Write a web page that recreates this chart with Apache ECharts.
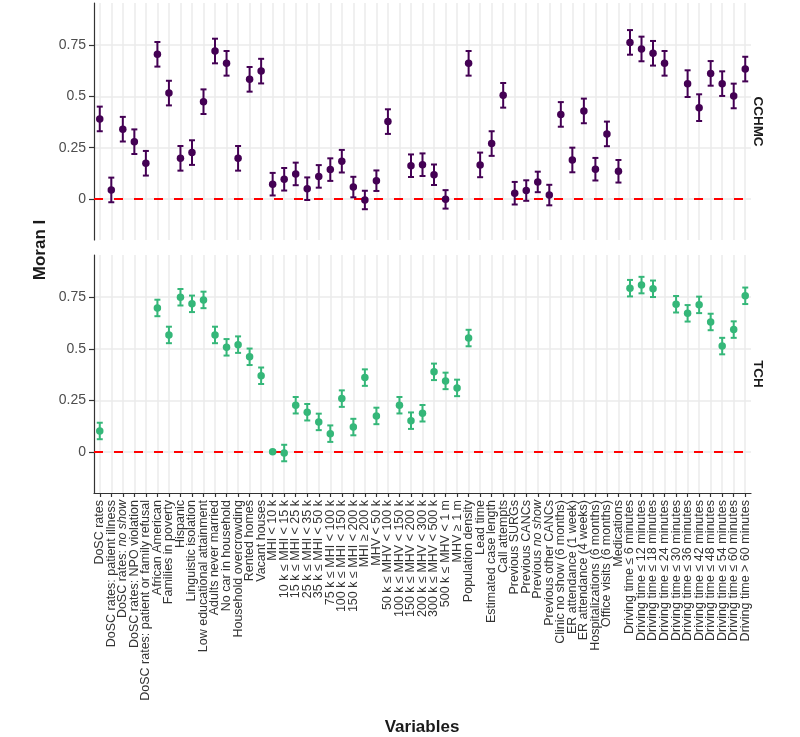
<!DOCTYPE html>
<html>
<head>
<meta charset="utf-8">
<script src="https://cdn.jsdelivr.net/npm/echarts@6/dist/echarts.min.js"></script>
<style>html,body{margin:0;padding:0;background:#fff;}#c{width:800px;height:737px;}</style>
</head>
<body>
<div id="c"></div>
<script>
const categories = [
  "DoSC rates", "DoSC rates: patient illness", "DoSC rates: {i|no show}", "DoSC rates: NPO violation",
  "DoSC rates: patient or family refusal", "African American", "Families in poverty", "Hispanic",
  "Linguistic isolation", "Low educational attainment", "Adults never married", "No car in household",
  "Household overcrowding", "Rented homes", "Vacant houses",
  "MHI < 10 k", "10 k ≤ MHI < 15 k", "15 k ≤ MHI < 25 k", "25 k ≤ MHI < 35 k", "35 k ≤ MHI < 50 k",
  "75 k ≤ MHI < 100 k", "100 k ≤ MHI < 150 k", "150 k ≤ MHI < 200 k", "MHI ≥ 200 k",
  "MHV < 50 k", "50 k ≤ MHV < 100 k", "100 k ≤ MHV < 150 k", "150 k ≤ MHV < 200 k",
  "200 k ≤ MHV < 300 k", "300 k ≤ MHV < 500 k", "500 k ≤ MHV < 1 m", "MHV ≥ 1 m",
  "Population density", "Lead time", "Estimated case length", "Call attempts",
  "Previous SURGs", "Previous CANCs", "Previous {i|no show}", "Previous other CANCs",
  "Clinic no show (6 months)", "ER attendance (1 week)", "ER attendance (4 weeks)",
  "Hospitalizations (6 months)", "Office visits (6 months)", "Medications",
  "Driving time ≤ 6 minutes", "Driving time ≤ 12 minutes", "Driving time ≤ 18 minutes",
  "Driving time ≤ 24 minutes", "Driving time ≤ 30 minutes", "Driving time ≤ 36 minutes",
  "Driving time ≤ 42 minutes", "Driving time ≤ 48 minutes", "Driving time ≤ 54 minutes",
  "Driving time ≤ 60 minutes", "Driving time > 60 minutes"
];

const panels = ["CCHMC", "TCH"];
const yTicks = [0, 0.25, 0.5, 0.75];

const cchmcMoran = [
  0.39, 0.044, 0.34, 0.279, 0.174, 0.705, 0.516, 0.198, 0.226, 0.474,
  0.721, 0.661, 0.198, 0.583, 0.623, 0.072, 0.096, 0.122, 0.05, 0.11,
  0.143, 0.184, 0.058, -0.005, 0.089, 0.377, null, 0.162, 0.167, 0.118,
  -0.002, null, 0.661, 0.166, 0.27, 0.505, 0.028, 0.041, 0.083, 0.019,
  0.412, 0.19, 0.429, 0.145, 0.317, 0.135, 0.763, 0.731, 0.71, 0.661,
  null, 0.562, 0.445, 0.612, 0.562, 0.502, 0.633
];
const cchmcErr = [
  0.06, 0.06, 0.06, 0.06, 0.06, 0.06, 0.06, 0.06, 0.06, 0.06,
  0.06, 0.06, 0.06, 0.06, 0.06, 0.055, 0.055, 0.055, 0.055, 0.055,
  0.055, 0.055, 0.05, 0.045, 0.05, 0.06, null, 0.055, 0.055, 0.05,
  0.045, null, 0.06, 0.06, 0.06, 0.06, 0.055, 0.05, 0.05, 0.05,
  0.06, 0.06, 0.06, 0.055, 0.06, 0.055, 0.06, 0.06, 0.06, 0.06,
  null, 0.065, 0.065, 0.06, 0.06, 0.06, 0.06
];
const tchMoran = [
  0.101, null, null, null, null, 0.698, 0.567, 0.75, 0.718, 0.737,
  0.567, 0.507, 0.52, 0.461, 0.369, 0.0, -0.006, 0.226, 0.192, 0.145,
  0.088, 0.258, 0.12, 0.36, 0.174, null, 0.226, 0.151, 0.187, 0.388,
  0.344, 0.31, 0.552, null, null, null, null, null, null, null,
  null, null, null, null, null, null, 0.794, 0.809, 0.791, null,
  0.716, 0.672, 0.713, 0.63, 0.513, 0.593, 0.757
];
const tchErr = [
  0.04, null, null, null, null, 0.04, 0.04, 0.04, 0.04, 0.04,
  0.04, 0.04, 0.04, 0.04, 0.04, 0.005, 0.04, 0.04, 0.04, 0.04,
  0.04, 0.04, 0.04, 0.04, 0.04, null, 0.04, 0.04, 0.04, 0.04,
  0.04, 0.04, 0.04, null, null, null, null, null, null, null,
  null, null, null, null, null, null, 0.04, 0.04, 0.04, null,
  0.04, 0.04, 0.04, 0.04, 0.04, 0.04, 0.04
];

const colors = ["#440154", "#35b779"];
const FONT = "Liberation Sans, Arial, sans-serif";
const catIdx = categories.map((_, i) => i);

function buildData(vals, errs) {
  const out = [];
  vals.forEach((v, i) => {
    if (v !== null) out.push([i, v, v - errs[i], v + errs[i]]);
  });
  return out;
}
const seriesData = [buildData(cchmcMoran, cchmcErr), buildData(tchMoran, tchErr)];

function errRenderer(color) {
  return function (params, api) {
    const x = api.value(0);
    const lo = api.coord([x, api.value(2)]);
    const hi = api.coord([x, api.value(3)]);
    const w = 3;
    const st = { stroke: color, lineWidth: 2 };
    return {
      type: 'group',
      children: [
        { type: 'line', shape: { x1: lo[0], y1: lo[1], x2: hi[0], y2: hi[1] }, style: st },
        { type: 'line', shape: { x1: lo[0] - w, y1: lo[1], x2: lo[0] + w, y2: lo[1] }, style: st },
        { type: 'line', shape: { x1: hi[0] - w, y1: hi[1], x2: hi[0] + w, y2: hi[1] }, style: st }
      ]
    };
  };
}

const grids = [
  { left: 94, top: 3, width: 657, height: 237 },
  { left: 94, top: 255, width: 657, height: 238 }
];

// value axes carry the data and the vertical grid lines at category centres
const xAxes = [0, 1].map(i => ({
  type: 'value',
  gridIndex: i,
  min: -0.5,
  max: categories.length - 0.5,
  axisLine: { show: false },
  axisTick: { show: false, customValues: catIdx },
  axisLabel: { show: false, customValues: catIdx },
  splitLine: { show: true, lineStyle: { color: '#ebebeb', width: 1.5 } }
}));
// category axis on the lower panel carries the labels, ticks and axis line
xAxes.push({
  type: 'category',
  gridIndex: 1,
  position: 'bottom',
  data: categories,
  boundaryGap: true,
  axisLine: { show: true, onZero: false, lineStyle: { color: '#333', width: 1.2 } },
  axisTick: { show: true, alignWithLabel: true, length: 4, lineStyle: { color: '#333', width: 1.2 } },
  axisLabel: {
    show: true, interval: 0, rotate: 90, fontSize: 12.5, color: '#333', fontFamily: FONT, margin: 7,
    rich: { i: { fontStyle: 'italic', fontSize: 12.5, color: '#333', fontFamily: FONT } }
  },
  splitLine: { show: false }
});

const yAxes = [0, 1].map(i => ({
  type: 'value',
  gridIndex: i,
  min: -0.2,
  max: 0.955,
  axisLine: { show: true, onZero: false, lineStyle: { color: '#333', width: 1.2 } },
  axisTick: { show: true, length: 5, customValues: yTicks, lineStyle: { color: '#333', width: 1.2 } },
  axisLabel: { customValues: yTicks, fontSize: 14, color: '#4d4d4d', fontFamily: FONT, margin: 8 },
  splitLine: { show: true, lineStyle: { color: '#ebebeb', width: 1.5 } }
}));

const series = [];
[0, 1].forEach(i => {
  series.push({
    type: 'custom',
    name: panels[i] + ' CI',
    xAxisIndex: i,
    yAxisIndex: i,
    data: seriesData[i],
    encode: { x: 0, y: [1, 2, 3] },
    renderItem: errRenderer(colors[i]),
    z: 3,
    markLine: {
      silent: true,
      symbol: 'none',
      label: { show: false },
      lineStyle: { color: '#ff0000', type: [9, 11], dashOffset: 0, width: 2, opacity: 1 },
      emphasis: { disabled: true },
      data: [{ yAxis: 0 }],
      z: 2
    }
  });
  series.push({
    type: 'scatter',
    name: panels[i],
    xAxisIndex: i,
    yAxisIndex: i,
    data: seriesData[i].map(d => [d[0], d[1]]),
    symbol: 'circle',
    symbolSize: 7.5,
    itemStyle: { color: colors[i], opacity: 1 },
    z: 4
  });
});

const textStyle = (t, size, weight) => ({ text: t, fontSize: size, fontWeight: weight, fontFamily: FONT, fill: '#1a1a1a', align: 'center', verticalAlign: 'middle' });

const option = {
  animation: false,
  backgroundColor: '#ffffff',
  grid: grids,
  xAxis: xAxes,
  yAxis: yAxes,
  series: series,
  graphic: [
    { type: 'text', x: 40, y: 250, rotation: Math.PI / 2, style: textStyle('Moran I', 17, 'bold') },
    { type: 'text', x: 422, y: 727, style: textStyle('Variables', 17, 'bold') },
    { type: 'text', x: 758, y: 121.5, rotation: -Math.PI / 2, style: textStyle(panels[0], 13.5, 'bold') },
    { type: 'text', x: 758, y: 374, rotation: -Math.PI / 2, style: textStyle(panels[1], 13.5, 'bold') }
  ]
};

const chart = echarts.init(document.getElementById('c'), null, { renderer: 'canvas' });
chart.setOption(option);
</script>
</body>
</html>
